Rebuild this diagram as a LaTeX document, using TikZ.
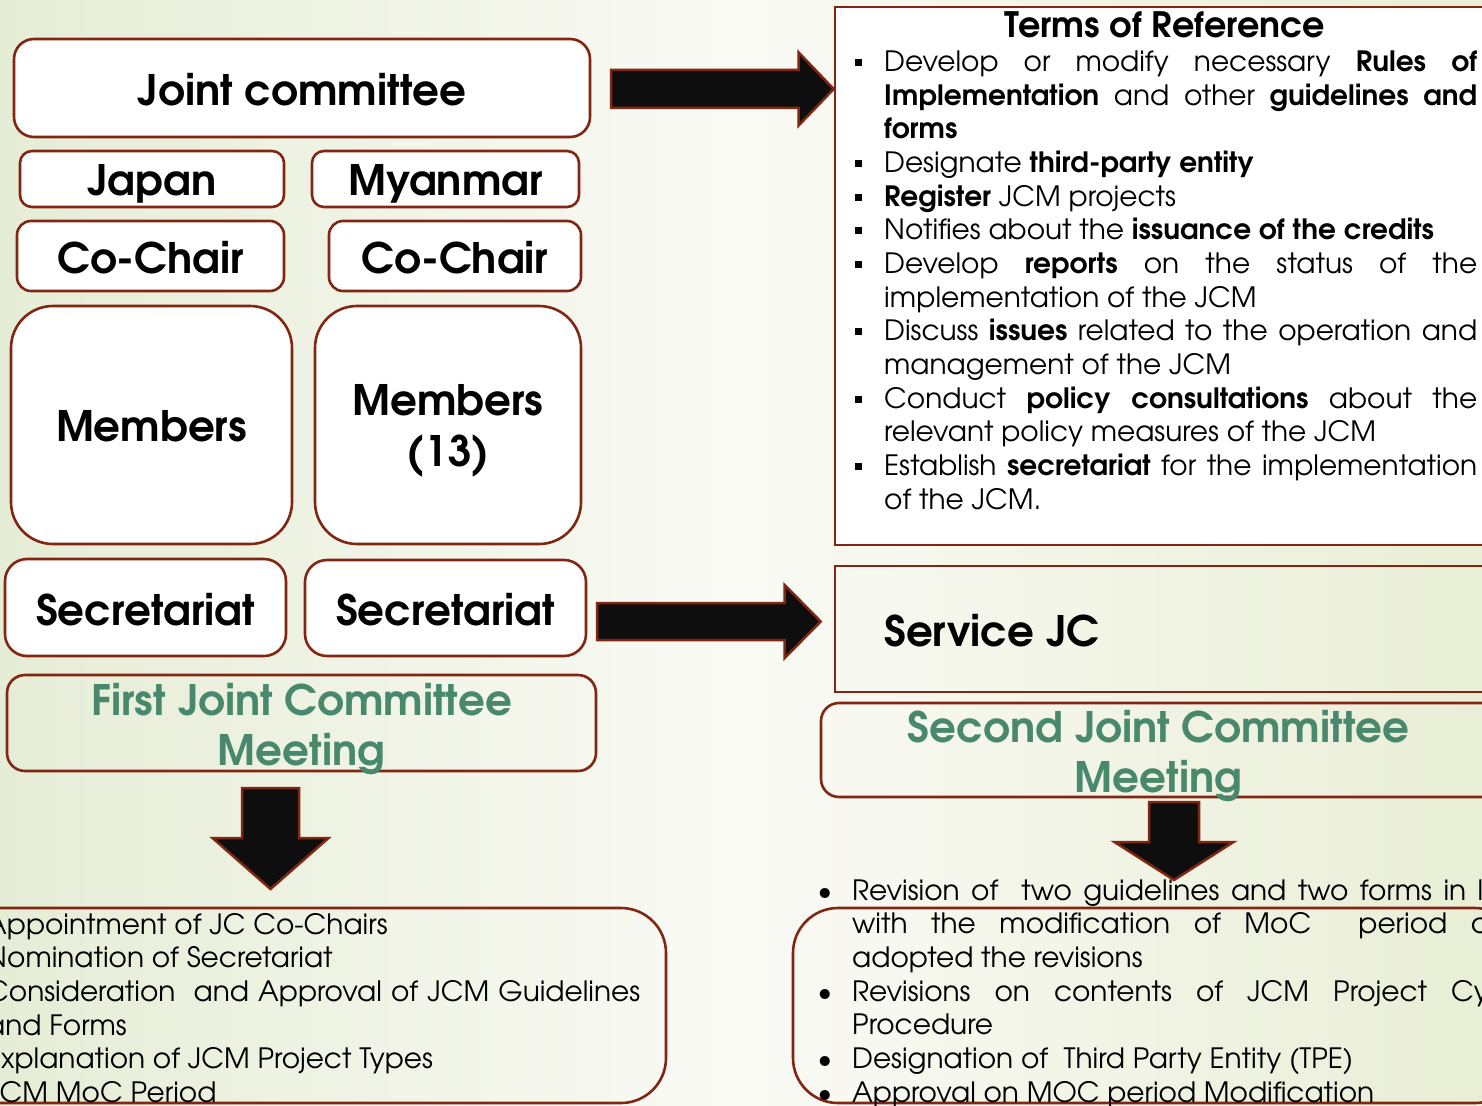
\documentclass[tikz,border=0pt]{standalone}
\usepackage{fontspec}
\setmainfont{texgyreadventor}[Extension=.otf,UprightFont=*-regular,BoldFont=*-bold,ItalicFont=*-italic,BoldItalicFont=*-bolditalic]
\usetikzlibrary{calc}
\definecolor{brd}{RGB}{128,38,18}
\definecolor{grn}{RGB}{72,136,108}
\definecolor{arrowfill}{RGB}{14,14,14}
\definecolor{bgL}{RGB}{230,237,214}
\definecolor{bgM}{RGB}{250,250,245}
\definecolor{bgR}{RGB}{233,238,214}
\newcommand\jl[1]{\makebox[593pt][s]{#1}}
\newcommand\jr[2]{\makebox[#1pt][s]{#2}}
\newcommand\sqb{\llap{\raisebox{5.5pt}{\rule{7pt}{7pt}}\hspace{22pt}}}
\newcommand\rb{\llap{\textbullet\hspace{20pt}}}
\newcommand\harrow[5]{%
 \draw[barrow] ($(#1)+(0,#3)$) -- ($(#2)+(-#5,#3)$) -- ($(#2)+(-#5,#4)$) -- (#2) -- ($(#2)+(-#5,-#4)$) -- ($(#2)+(-#5,-#3)$) -- ($(#1)+(0,-#3)$) -- cycle;}
\newcommand\varrow[5]{%
 \draw[barrow] ($(#1)+(#3,0)$) -- ($(#2)+(#3,-#5)$) -- ($(#2)+(#4,-#5)$) -- (#2) -- ($(#2)+(-#4,-#5)$) -- ($(#2)+(-#3,-#5)$) -- ($(#1)+(-#3,0)$) -- cycle;}
\begin{document}
\begin{tikzpicture}[x=1pt,y=-1pt,
  wbox/.style={draw=brd,line width=2.6pt,fill=white,rounded corners=#1,inner sep=0pt},
  wbox/.default=14pt,
  obox/.style={draw=brd,line width=2.6pt,rounded corners=#1,inner sep=0pt},
  obox/.default=18pt,
  sbox/.style={draw=brd,line width=2.6pt,inner sep=0pt},
  bigtxt/.style={font=\fontsize{42}{51}\selectfont\bfseries,align=center,inner sep=0pt},
  grntxt/.style={font=\fontsize{42}{50}\selectfont\bfseries,text=grn,align=center,inner sep=0pt},
  bodytxt/.style={font=\fontsize{28}{33.65}\selectfont,align=left,inner sep=0pt},
  barrow/.style={fill=arrowfill,draw=brd,line width=2.5pt,line join=miter}]
\useasboundingbox (0,0) rectangle (1482,1105);
\clip (0,0) rectangle (1482,1105);
\fill[left color=bgL,right color=bgR,middle color=bgM] (0,0) rectangle (1482,1105);

% left column boxes
\node[wbox=20pt,minimum width=576pt,minimum height=98pt] (jc) at (302,88) {};
\node[wbox=12pt,minimum width=264pt,minimum height=56pt] (japan) at (152,179) {};
\node[wbox=12pt,minimum width=267pt,minimum height=56pt] (myan) at (445.5,179) {};
\node[wbox=14pt,minimum width=267pt,minimum height=70pt] (ccl) at (150.5,256) {};
\node[wbox=14pt,minimum width=252pt,minimum height=70pt] (ccr) at (455,256) {};
\node[wbox=42pt,minimum width=281pt,minimum height=238pt] (meml) at (151.5,425) {};
\node[wbox=42pt,minimum width=266pt,minimum height=238pt] (memr) at (448,425) {};
\node[wbox=22pt,minimum width=281pt,minimum height=97pt] (secl) at (145.5,607.5) {};
\node[wbox=22pt,minimum width=281pt,minimum height=96pt] (secr) at (445.5,608) {};
\node[obox=18pt,minimum width=589pt,minimum height=96pt] (fjc) at (301.5,723) {};
\node[obox=45pt,minimum width=736pt,minimum height=195pt] (bl) at (298,1005.5) {};

% right column boxes
\node[sbox,fill=white,minimum width=665pt,minimum height=538pt] (tor) at (1167.5,276) {};
\node[sbox,minimum width=665pt,minimum height=126pt] (svc) at (1167.5,629) {};
\node[obox=18pt,minimum width=679pt,minimum height=94pt] (sjc) at (1160.5,750) {};
\node[obox=45pt,minimum width=727pt,minimum height=195pt] (br) at (1156.5,1005.5) {};

% box labels
\node[bigtxt] (jct) at ($(jc.center)+(0,2)$) {Joint committee};
\node[bigtxt] (japant) at ($(japan.center)+(0,5)$) {Japan};
\node[bigtxt] (myant) at ($(myan.center)+(0,5)$) {Myanmar};
\node[bigtxt] (cclt) at ($(ccl.center)+(0,2)$) {Co-Chair};
\node[bigtxt] (ccrt) at ($(ccr.center)+(0,2)$) {Co-Chair};
\node[bigtxt] (memlt) at ($(meml.center)+(0,1)$) {Members};
\node[bigtxt] (memrt) at ($(memr.center)+(0,6)$) {Members\\(13)};
\node[bigtxt] (seclt) at ($(secl.center)+(0,2)$) {Secretariat};
\node[bigtxt] (secrt) at ($(secr.center)+(0,2)$) {Secretariat};
\node[grntxt] (fjct) at ($(fjc.center)+(0,6)$) {First Joint Committee\\Meeting};
\node[grntxt] (sjct) at ($(sjc.center)+(-2,6)$) {Second Joint Committee\\Meeting};
\node[font=\fontsize{42}{50}\selectfont\bfseries,anchor=west,inner sep=0pt] (svct) at (884,631) {Service JC};

% text blocks
\node[font=\fontsize{35}{40}\selectfont\bfseries,anchor=base,inner sep=0pt] (tortitle) at (1165,37.5) {Terms of Reference};
\node[bodytxt,anchor=base west] (torlist) at (884,509) {%
\sqb\jl{Develop or modify necessary \textbf{Rules of}}\\
\jl{\textbf{Implementation} and other \textbf{guidelines and}}\\
\textbf{forms}\\
\sqb Designate \textbf{third-party entity}\\
\sqb\textbf{Register} JCM projects\\
\sqb Notifies about the \textbf{issuance of the credits}\\
\sqb\jl{Develop \textbf{reports} on the status of the}\\
implementation of the JCM\\
\sqb\jl{Discuss \textbf{issues} related to the operation and}\\
management of the JCM\\
\sqb\jl{Conduct \textbf{policy consultations} about the}\\
relevant policy measures of the JCM\\
\sqb\jl{Establish \textbf{secretariat} for the implementation}\\
of the JCM.};
\node[bodytxt,anchor=base west] (bltxt) at (-14,1102.5) {%
Appointment of JC Co-Chairs\\
Nomination of Secretariat\\
\jr{654}{Consideration\ \ and Approval of JCM Guidelines}\\
and Forms\\
Explanation of JCM Project Types\\
JCM MoC Period};
\node[bodytxt,anchor=base west] (brtxt) at (852,1102) {%
\rb\jr{672}{Revision of\ \ two guidelines and two forms in line}\\
\jr{674}{with the modification of MoC\ \ period and}\\
adopted the revisions\\
\rb\jr{678}{Revisions on contents of JCM Project Cycle}\\
Procedure\\
\rb Designation of\ \ Third Party Entity (TPE)\\
\rb Approval on MOC period Modification};

% block arrows
\coordinate (a1s) at (611,89);
\coordinate (a1t) at (tor.west |- a1s);
\harrow{a1s}{a1t}{19}{36.5}{35}
\coordinate (a2s) at (597,621.5);
\coordinate (a2t) at ($(svc.west |- a2s)+(-13,0)$);
\harrow{a2s}{a2t}{18.5}{36.5}{36}
\coordinate (d1s) at (270.5,788);
\coordinate (d1t) at (270.5,889);
\varrow{d1s}{d1t}{28.5}{58}{51}
\coordinate (d2s) at (1174,802);
\coordinate (d2t) at (1174,880);
\varrow{d2s}{d2t}{25}{59.5}{38}
\end{tikzpicture}
\end{document}
